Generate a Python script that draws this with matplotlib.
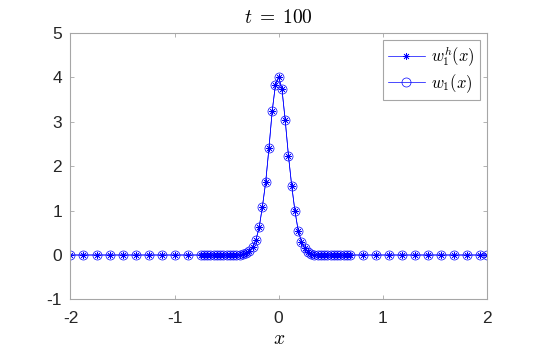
import matplotlib
matplotlib.use("Agg")
import matplotlib.pyplot as plt

plt.rcParams["font.family"] = ["Liberation Sans", "DejaVu Sans"]
plt.rcParams["mathtext.fontset"] = "cm"
plt.rcParams["axes.unicode_minus"] = False

# mesh: coarse on the left, fine (1/32) around the pulse, coarse on the right
x_left = [-2.0, -1.875, -1.75, -1.625, -1.5, -1.375, -1.25, -1.125, -1.0, -0.875]
x_fine = [-0.75, -0.71875, -0.6875, -0.65625, -0.625, -0.59375, -0.5625, -0.53125,
          -0.5, -0.46875, -0.4375, -0.40625, -0.375, -0.34375, -0.3125, -0.28125,
          -0.25, -0.21875, -0.1875, -0.15625, -0.125, -0.09375, -0.0625, -0.03125,
          0.0, 0.03125, 0.0625, 0.09375, 0.125, 0.15625, 0.1875, 0.21875,
          0.25, 0.28125, 0.3125, 0.34375, 0.375, 0.40625, 0.4375, 0.46875,
          0.5, 0.53125, 0.5625, 0.59375, 0.625, 0.65625, 0.6875]
x_right = [0.8125, 0.9375, 1.0625, 1.1875, 1.3125, 1.4375, 1.5625, 1.6875, 1.8125, 1.9375, 2.0]

w_left = [0.0] * 10
w_fine = [0.0, 0.0, 0.0, 0.0, 0.0, 0.0, 0.0, 0.0,
          0.0, 0.0, 0.0, 0.0, 0.01, 0.02, 0.04, 0.09,
          0.19, 0.34, 0.62, 1.09, 1.64, 2.40, 3.24, 3.83,
          4.01, 3.74, 3.04, 2.24, 1.56, 0.99, 0.55, 0.30,
          0.15, 0.06, 0.02, 0.01, 0.0, 0.0, 0.0, 0.0,
          0.0, 0.0, 0.0, 0.0, 0.0, 0.0, 0.0]
w_right = [0.0] * 11

x = x_left + x_fine + x_right
w1h = w_left + w_fine + w_right   # numerical solution
w1 = list(w1h)                    # exact solution (indistinguishable at this scale)

fig = plt.figure(figsize=(5.38, 3.59), dpi=100)
ax = fig.add_axes([0.131, 0.166, 0.774, 0.742])

ax.plot(x, w1h, color="#0000ff", lw=0.5, marker=(8, 2, 0), ms=5, mew=0.5,
        label=r"$w_1^h(x)$")
ax.plot(x, w1, color="#0000ff", lw=0.5, marker="o", ms=6.5, mfc="none", mew=0.5,
        label=r"$w_1(x)$")

ax.set_xlim(-2, 2)
ax.set_ylim(-1, 5)
ax.set_xticks([-2, -1, 0, 1, 2])
ax.set_yticks([-1, 0, 1, 2, 3, 4, 5])
ax.tick_params(direction="in", length=3, width=0.6, colors="#a6a6a6",
               labelcolor="#262626", labelsize=12.5, top=True, right=True)
ax.tick_params(axis="x", pad=8)
ax.tick_params(axis="y", pad=6)
for s in ax.spines.values():
    s.set_color("#a6a6a6")
    s.set_linewidth(0.8)

ax.set_title(r"$t\;=\;100$", fontsize=14, pad=7)
ax.set_xlabel(r"$x$", fontsize=14, labelpad=4)

leg = ax.legend(loc="upper right", fontsize=12, fancybox=False, framealpha=1,
                edgecolor="#a6a6a6", borderpad=0.3, handlelength=2.2,
                handletextpad=0.4, labelspacing=0.2, borderaxespad=0.4)
leg.get_frame().set_linewidth(0.8)

fig.savefig("out.png", dpi=100)
